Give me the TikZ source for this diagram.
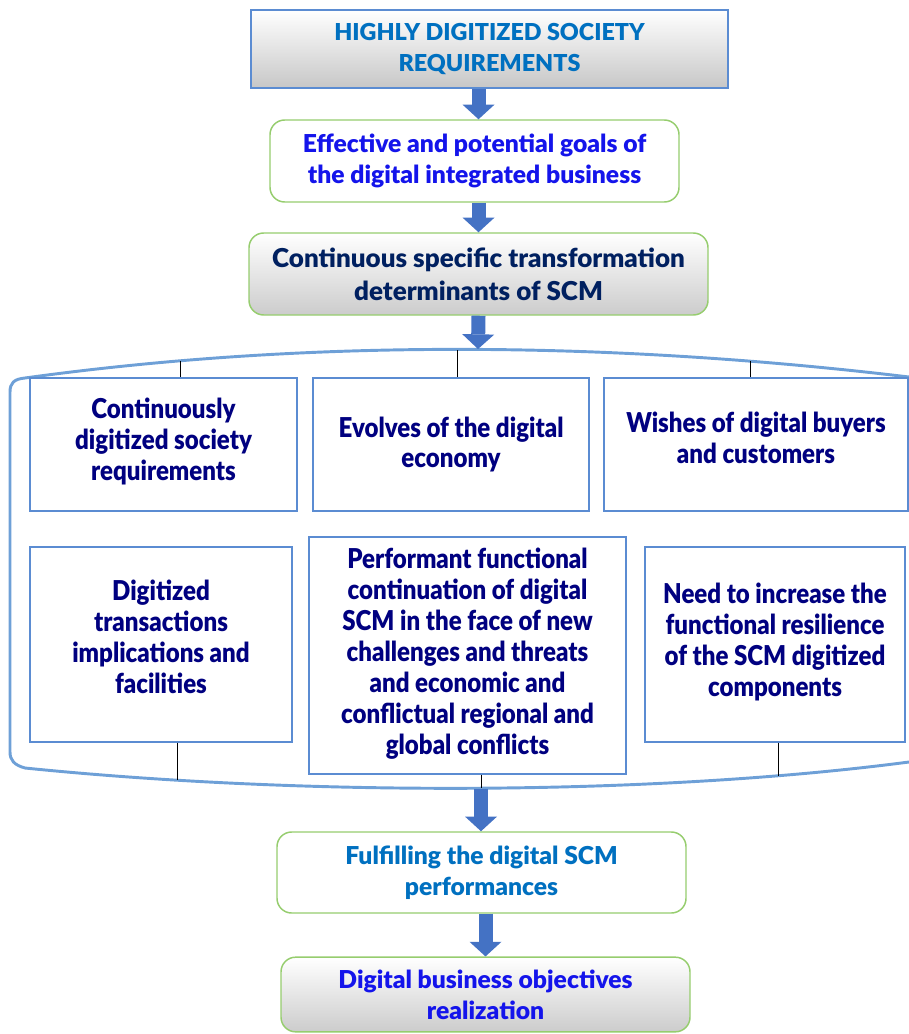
\documentclass[tikz,border=0pt]{standalone}
\usepackage{fontspec}
\setmainfont{Lato}[BoldFont={Lato Black}]
\newfontfamily\narrowfont{Lato}[BoldFont={Lato Black},FakeStretch=0.88]
\usetikzlibrary{arrows.meta,positioning}

\definecolor{titleblue}{RGB}{0,112,192}
\definecolor{goalblue}{RGB}{20,20,235}
\definecolor{detnavy}{RGB}{0,32,96}
\definecolor{itemnavy}{RGB}{0,0,128}
\definecolor{framebl}{RGB}{91,140,210}
\definecolor{framegr}{RGB}{150,205,110}
\definecolor{arrowbl}{RGB}{68,114,196}
\definecolor{bowbl}{RGB}{110,160,215}

\tikzset{
  boxtext/.style={align=center, inner sep=0pt, font=\bfseries\fontsize{18.5}{23.5}\selectfont},
  headbox/.style={boxtext, draw=framebl, line width=1.1pt,
    top color=white, bottom color=black!22, text=titleblue},
  goalbox/.style={boxtext, draw=framegr, line width=1.1pt, rounded corners=11pt},
  itembox/.style={draw=framebl, line width=0.9pt, fill=white, align=center, inner sep=0pt,
    text=itemnavy, font=\narrowfont\bfseries\fontsize{20.5}{23.2}\selectfont},
  bigarrow/.style={draw=arrowbl, line width=10.5pt,
    -{Triangle[length=11pt,width=24pt,line width=0pt]}},
  bowline/.style={draw=bowbl, line width=2.2pt},
  tie/.style={draw=black, line width=0.6pt}
}

\begin{document}
\begin{tikzpicture}[x=0.75pt,y=-0.75pt]
\useasboundingbox (0,0) rectangle (909,1034);

		% Requirements
		\node[headbox,
			font=\bfseries\fontsize{17.5}{23.5}\selectfont,
			minimum width=357.75pt,
			minimum height=58.5pt] (need) at (489.5,49) {HIGHLY DIGITIZED SOCIETY\\REQUIREMENTS};

		% Goals
		\node[goalbox,
			fill=white,
			text=goalblue,
			minimum width=306.75pt,
			minimum height=61.5pt] (goals) at (474.5,161) {Effective and potential goals of\\the digital integrated business};

		% Determinants
		\node[goalbox,
			top color=white, bottom color=black!20,
			text=detnavy,
			font=\bfseries\fontsize{19.5}{24.5}\selectfont,
			minimum width=344.25pt,
			minimum height=61.5pt] (determ) at (478.5,274) {Continuous specific transformation\\determinants of SCM};

		% Frame round the six determinants
		\draw[bowline] (909,377) .. controls (600,340) and (300,340) .. (25,378)
			.. controls (14,379) and (10,383) .. (10,392) -- (10,752)
			.. controls (10,760) and (14,765) .. (25,768)
			.. controls (300,796) and (650,796) .. (909,762);
		\coordinate (bowtop) at (478,349);
		\coordinate (bowbot) at (481,789);
		\coordinate (bowA) at (180,361);
		\coordinate (bowB) at (457,350);
		\coordinate (bowC) at (750,361);
		\coordinate (baseD) at (177,780);
		\coordinate (baseE) at (481,788);
		\coordinate (baseF) at (778,776);

		% Upper row
		\node[itembox, minimum width=200.25pt, minimum height=99.75pt] (itemA) at (163.5,444.5)
			{Continuously\\digitized society\\requirements\\[-15.7pt]};
		\node[itembox, minimum width=207pt, minimum height=99.75pt] (itemB) at (451,444.5)
			{Evolves of the digital\\economy};
		\node[itembox, minimum width=228pt, minimum height=99.75pt] (itemC) at (756,444.5)
			{Wishes of digital buyers\\and customers\\[-12.7pt]};

		% Lower row
		\node[itembox, minimum width=196.5pt, minimum height=146.25pt] (itemD) at (161,644.5)
			{Digitized\\transactions\\implications and\\facilities\\[-11pt]};
		\node[itembox, minimum width=237.75pt, minimum height=177.75pt] (itemE) at (467.5,655.5)
			{Performant functional\\continuation of digital\\SCM in the face of new\\challenges and threats\\and economic and\\conflictual regional and\\global conflicts\\[-17pt]};
		\node[itembox, minimum width=195pt, minimum height=146.25pt] (itemF) at (775,644.5)
			{Need to increase the\\functional resilience\\of the SCM digitized\\components\\[-15.7pt]};

		\draw[tie] (bowA) -- (bowA |- itemA.north)
		(bowB) -- (bowB |- itemB.north)
		(bowC) -- (bowC |- itemC.north)
		(itemD.south -| baseD) -- (baseD)
		(itemE.south -| baseE) -- (baseE)
		(itemF.south -| baseF) -- (baseF);

		% Performances
		\node[goalbox,
			fill=white,
			text=titleblue,
			minimum width=306.75pt,
			minimum height=60.75pt] (perf) at (481.5,872.5) {Fulfilling the digital SCM\\performances};

		% Objectives
		\node[goalbox,
			top color=white, bottom color=black!20,
			text=goalblue,
			minimum width=306.75pt,
			minimum height=56pt] (object) at (485.5,994.5) {Digital business objectives\\realization};

		\draw[bigarrow] (need.south -| determ.north) -- (goals.north -| determ.north);
		\draw[bigarrow] (goals.south -| determ.north) -- (determ.north);
		\draw[bigarrow] (determ.south) -- (bowtop);
		\draw[bigarrow] (bowbot) -- (bowbot |- perf.north);
		\draw[bigarrow] (perf.south -| object.north) -- (object.north);
	\end{tikzpicture}
\end{document}
